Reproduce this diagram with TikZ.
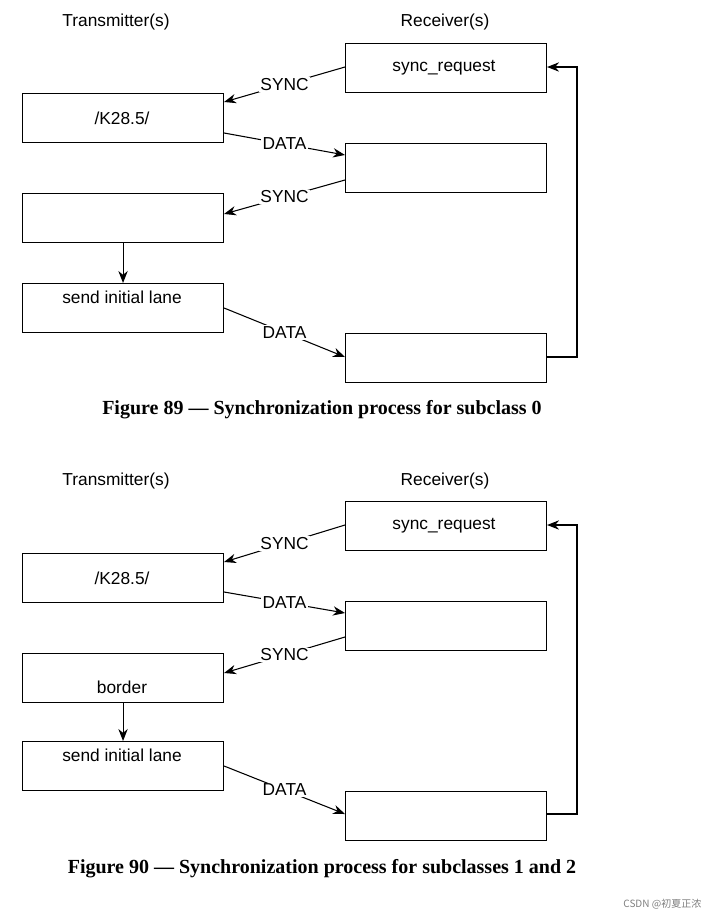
\documentclass[tikz,border=0pt]{standalone}
\usepackage{fontspec}
\setmainfont{Liberation Sans}
\newfontfamily\capfont{Liberation Serif}
\newfontfamily\cjk{Noto Sans CJK SC}
\usetikzlibrary{arrows.meta}
\begin{document}
\begin{tikzpicture}[x=0.75pt,y=-0.75pt,
  box/.style={draw,line width=0.8pt,minimum width=201*0.75pt,minimum height=49*0.75pt,inner sep=0pt,anchor=north west},
  conn/.style={line width=0.8pt,-{Stealth[length=9pt,width=7pt]}},
  lbl/.style={fill=white,inner sep=1pt,font=\fontsize{13}{15}\selectfont},
  txt/.style={font=\fontsize{13}{15}\selectfont},
  figcap/.style={font=\capfont\bfseries\fontsize{15}{17}\selectfont}]
\useasboundingbox (0,0) rectangle (715,918);
\fill[white] (0,0) rectangle (715,918);
% ---------- Figure 89
\node[txt] (t1) at (116,22) {Transmitter(s)};
\node[txt] (r1) at (445,22) {Receiver(s)};
\node[box] (ra) at (345,43) {};
\node[txt] at (444,68) {sync\_request};
\node[box] (rb) at (345,143) {};
\node[box] (rc) at (345,333) {};
\node[box] (la) at (22,93) {};
\node[txt] at (122,118) {/K28.5/};
\node[box] (lb) at (22,193) {};
\node[box] (lc) at (22,283) {};
\node[txt] at (122,297) {send initial lane};
\draw[conn] (ra.west |- 0,67) -- node[lbl,pos=0.5]{SYNC} (la.east |- 0,102);
\draw[conn] (la.east |- 0,133) -- node[lbl,pos=0.5]{DATA} (rb.west |- 0,155);
\draw[conn] (rb.west |- 0,180) -- node[lbl,pos=0.5]{SYNC} (lb.east |- 0,214);
\draw[conn] (lb.south) -- (lc.north);
\draw[conn] (la.east |- 0,308) -- node[lbl,pos=0.5]{DATA} (rc.west |- 0,357);
\coordinate (f1) at (577,357);
\draw[conn] (rc.east |- 0,357) -- (f1) |- (ra.east |- 0,67);
\node[figcap] (c1) at (322,410) {Figure 89 — Synchronization process for subclass 0};
% ---------- Figure 90
\node[txt] (t2) at (116,481) {Transmitter(s)};
\node[txt] (r2) at (445,481) {Receiver(s)};
\node[box] (sa) at (345,501) {};
\node[txt] at (444,526) {sync\_request};
\node[box] (sb) at (345,601) {};
\node[box] (sc) at (345,791) {};
\node[box] (ma) at (22,553) {};
\node[txt] at (122,578) {/K28.5/};
\node[box] (mb) at (22,653) {};
\node[txt] at (122,687) {border};
\node[box] (mc) at (22,741) {};
\node[txt] at (122,755) {send initial lane};
\draw[conn] (sa.west |- 0,525) -- node[lbl,pos=0.5]{SYNC} (ma.east |- 0,562);
\draw[conn] (ma.east |- 0,592) -- node[lbl,pos=0.5]{DATA} (sb.west |- 0,613);
\draw[conn] (sb.west |- 0,637) -- node[lbl,pos=0.5]{SYNC} (mb.east |- 0,673);
\draw[conn] (mb.south) -- (mc.north);
\draw[conn] (mc.east |- 0,766) -- node[lbl,pos=0.5]{DATA} (sc.west |- 0,814);
\coordinate (f2) at (577,814);
\draw[conn] (sc.east |- 0,814) -- (f2) |- (sa.east |- 0,525);
\node[figcap] (c2) at (322,869) {Figure 90 — Synchronization process for subclasses 1 and 2};
\node[font=\cjk\fontsize{7.5}{9}\selectfont,text=gray,anchor=east] (wm) at (706,904) {CSDN @初夏正浓};
\end{tikzpicture}
\end{document}
